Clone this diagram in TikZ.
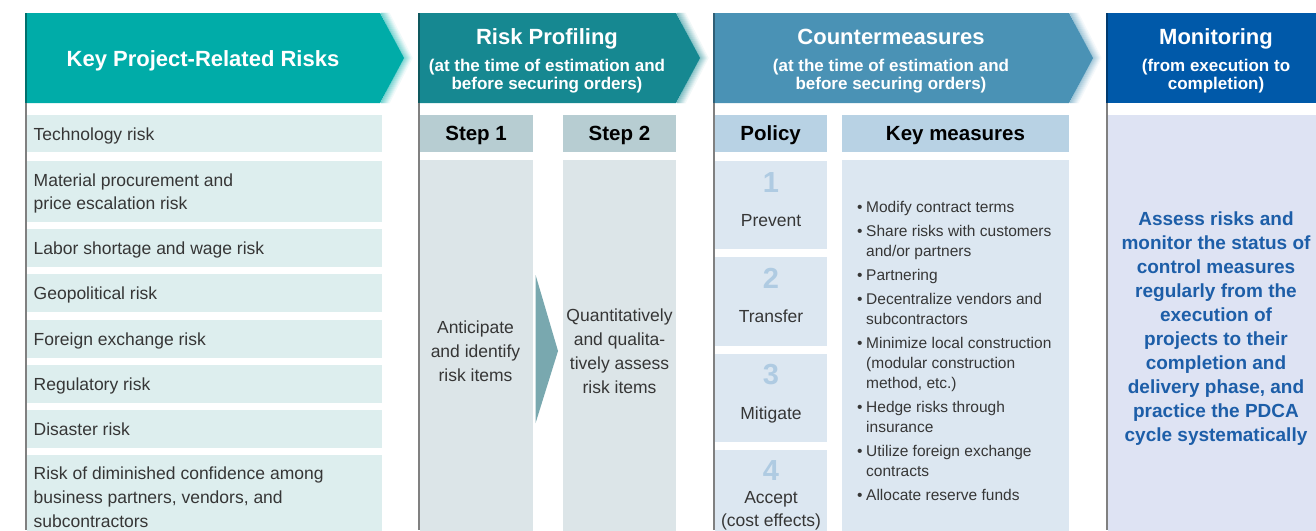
\documentclass[tikz,border=0pt]{standalone}
\usepackage{fontspec}
\setmainfont{Liberation Sans}
\usetikzlibrary{calc}
\definecolor{hA}{HTML}{00ACA8}
\definecolor{hB}{HTML}{168891}
\definecolor{hC}{HTML}{4A92B5}
\definecolor{hD}{HTML}{0059A9}
\definecolor{rowc}{HTML}{DDEEEE}
\definecolor{stephd}{HTML}{B7CDD2}
\definecolor{stepbd}{HTML}{DCE5E8}
\definecolor{polhd}{HTML}{B8D2E4}
\definecolor{polbd}{HTML}{DCE7F1}
\definecolor{monbd}{HTML}{DEE3F3}
\definecolor{montx}{HTML}{1D5EA8}
\definecolor{arrc}{HTML}{79A8AF}
\definecolor{numc}{HTML}{AFCBE2}
\definecolor{txt}{HTML}{363636}
\definecolor{edgec}{HTML}{808080}
\newcommand{\kmbul}{\strut\makebox[9pt][l]{\textbullet}}
\newcommand{\kmind}{\strut\hspace*{9pt}}
\begin{document}
\begin{tikzpicture}[x=1pt,y=-1pt,
  cell/.style={anchor=north west,inner sep=0pt,outer sep=0pt,draw=none},
  risk/.style={fill=rowc,minimum width=355pt,minimum height=#1,inner sep=0pt,outer sep=0pt,anchor=north west},
  risktxt/.style={inner sep=0pt,anchor=west,align=left,font=\fontsize{17.5}{23.5}\selectfont,text=txt},
  subhd/.style={inner sep=0pt,font=\bfseries\fontsize{20.5}{23}\selectfont,text=black},
  subbox/.style={cell,minimum height=37pt},
  plain/.style={inner sep=0pt,outer sep=0pt,font=\fontsize{17.5}{24}\selectfont,text=txt,align=center},
  numtxt/.style={inner sep=0pt,font=\bfseries\fontsize{29}{30}\selectfont,text=numc},
  htitle/.style={inner sep=0pt,font=\bfseries\fontsize{22}{24}\selectfont,text=white,align=center},
  hsub/.style={inner sep=0pt,font=\bfseries\fontsize{17}{18}\selectfont,text=white,align=center},
  edge/.style={draw=edgec,line width=1.6pt}
]
\clip (0,0) rectangle (1316,530);
\fill[white] (0,0) rectangle (1316,530);

% ---------- header chevrons ----------
\foreach \xa/\xb/\col in {25/380/hA, 418/676/hB, 713/1069/hC}{
  \foreach \k in {1,...,9}{
    \pgfmathtruncatemacro\p{60-6*\k}
    \draw[color=\col!\p!white,line width=1.2pt] (\xb+\k,13) -- (\xb+23+\k,58) -- (\xb+\k,103);
  }
  \fill[\col] (\xa,13) -- (\xb,13) -- (\xb+24,58) -- (\xb,103) -- (\xa,103) -- cycle;
}
\fill[hD] (1106,13) rectangle (1316,103);

% ---------- left edges ----------
\foreach \x/\col in {25.8/hA, 418.8/hB, 713.8/hC, 1106.8/hD}{
  \draw[edge] (\x,103) -- (\x,530);
  \draw[draw=\col!65!black,line width=1.6pt] (\x,13) -- (\x,103);
}

% ---------- header texts ----------
\node[htitle] (t1) at (203,62) {\strut Key Project-Related Risks};
\node[htitle] (t2) at (547,40) {\strut Risk Profiling};
\node[hsub] (s2) at (547,76.5) {\strut(at the time of estimation and\\\strut before securing orders)};
\node[htitle] (t3) at (891,40) {\strut Countermeasures};
\node[hsub] (s3) at (891,76.5) {\strut(at the time of estimation and\\\strut before securing orders)};
\node[htitle] (t4) at (1216,40) {\strut Monitoring};
\node[hsub] (s4) at (1216,76.5) {\strut(from execution to\\\strut completion)};

% ---------- risk rows ----------
\foreach \n/\top/\h in {1/115/37, 2/161/60.5, 3/229/37.5, 4/274/38, 5/320/37.5, 6/365/37.5, 7/410/37.5, 8/455/84}{
  \node[risk=\h pt] (r\n) at (26.6,\top) {};
}
\node[risktxt] (r1t) at (33.5,135.5) {\strut Technology risk};
\node[risktxt] (r2t) at (33.5,193.5) {\strut Material procurement and\\\strut price escalation risk};
\node[risktxt] (r3t) at (33.5,250) {\strut Labor shortage and wage risk};
\node[risktxt] (r4t) at (33.5,295) {\strut Geopolitical risk};
\node[risktxt] (r5t) at (33.5,341) {\strut Foreign exchange risk};
\node[risktxt] (r6t) at (33.5,386) {\strut Regulatory risk};
\node[risktxt] (r7t) at (33.5,431) {\strut Disaster risk};
\node[risktxt,font=\fontsize{17.5}{24}\selectfont] (r8t) at (33.5,499) {\strut Risk of diminished confidence among\\\strut business partners, vendors, and\\\strut subcontractors};

% ---------- risk profiling ----------
\node[subbox,fill=stephd,minimum width=113pt] (st1) at (419.6,115) {};
\node[subbox,fill=stephd,minimum width=113pt] (st2) at (563,115) {};
\node[subhd] (st1t) at ($(st1.center)+(0,2.5)$) {\strut Step 1};
\node[subhd] (st2t) at ($(st2.center)+(0,2.5)$) {\strut Step 2};
\node[cell,fill=stepbd,minimum width=113pt,minimum height=382pt] (b1) at (419.6,160) {};
\node[cell,fill=stepbd,minimum width=113pt,minimum height=382pt] (b2) at (563,160) {};
\node[plain] (b1t) at (475.5,353) {\strut Anticipate\\\strut and identify\\\strut risk items};
\node[plain] (b2t) at (619.5,353) {\strut Quantitatively\\\strut and qualita-\\\strut tively assess\\\strut risk items};
\fill[arrc] ($(b1.east)+(3,-76)$) -- ($(b2.west)+(-5,0)$) -- ($(b1.east)+(3,72)$) -- cycle;

% ---------- countermeasures ----------
\node[subbox,fill=polhd,minimum width=112pt] (ph) at (714.6,115) {};
\node[subbox,fill=polhd,minimum width=227pt] (kh) at (842,115) {};
\node[subhd] (pht) at ($(ph.center)+(0,2.5)$) {\strut Policy};
\node[subhd] (kht) at ($(kh.center)+(0,2.5)$) {\strut Key measures};
\node[cell,fill=polbd,minimum width=112pt,minimum height=88pt] (p1) at (714.6,161) {};
\node[cell,fill=polbd,minimum width=112pt,minimum height=89pt] (p2) at (714.6,257) {};
\node[cell,fill=polbd,minimum width=112pt,minimum height=88pt] (p3) at (714.6,354) {};
\node[cell,fill=polbd,minimum width=112pt,minimum height=90pt] (p4) at (714.6,450) {};
\node[numtxt] (n1) at (771,182.5) {1};
\node[numtxt] (n2) at (771,278.5) {2};
\node[numtxt] (n3) at (771,374.5) {3};
\node[numtxt] (n4) at (771,470.5) {4};
\node[plain] (l1) at (771,222) {\strut Prevent};
\node[plain] (l2) at (771,318) {\strut Transfer};
\node[plain] (l3) at (771,415) {\strut Mitigate};
\node[plain,font=\fontsize{17.5}{23}\selectfont] (l4) at (771,510.5) {\strut Accept\\\strut(cost effects)};

\node[cell,fill=polbd,minimum width=227pt,minimum height=382pt] (kb) at (842,160) {};
\node[inner sep=0pt,anchor=west,align=left,text=txt,font=\fontsize{15.5}{20}\selectfont] (kt) at (857,352.5) {%
\kmbul Modify contract terms\\[4pt]
\kmbul Share risks with customers\\
\kmind and/or partners\\[4pt]
\kmbul Partnering\\[4pt]
\kmbul Decentralize vendors and\\
\kmind subcontractors\\[4pt]
\kmbul Minimize local construction\\
\kmind (modular construction\\
\kmind method, etc.)\\[4pt]
\kmbul Hedge risks through\\
\kmind insurance\\[4pt]
\kmbul Utilize foreign exchange\\
\kmind contracts\\[4pt]
\kmbul Allocate reserve funds};

% ---------- monitoring ----------
\node[cell,fill=monbd,minimum width=218pt,minimum height=422pt] (mb) at (1107.6,115) {};
\node[inner sep=0pt,align=center,text=montx,font=\bfseries\fontsize{19}{24}\selectfont] (mt) at (1216,328.5) {%
\strut Assess risks and\\
\strut monitor the status of\\
\strut control measures\\
\strut regularly from the\\
\strut execution of\\
\strut projects to their\\
\strut completion and\\
\strut delivery phase, and\\
\strut practice the PDCA\\
\strut cycle systematically};
\end{tikzpicture}
\end{document}
